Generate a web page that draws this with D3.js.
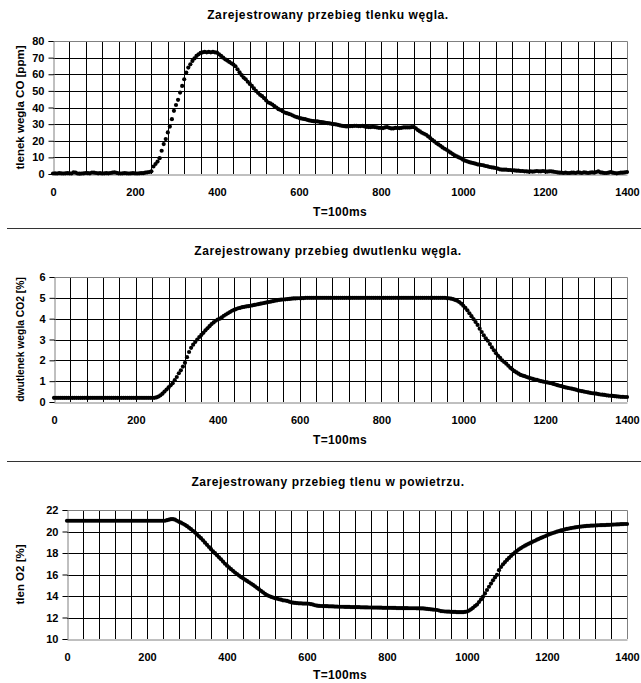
<!DOCTYPE html>
<html>
<head>
<meta charset="utf-8">
<script src="https://cdn.jsdelivr.net/npm/d3@7"></script>
<style>
  body { margin: 0; background: #fff; }
  svg text { font-family: "Liberation Sans", Arial, sans-serif; font-weight: bold; fill: #000; }
</style>
</head>
<body>
<div id="chart"></div>
<script>
// samples every 5 units of T (T=100ms)
const sampleStep = 5;
const gridStep = 40;
const xTicks = [0, 200, 400, 600, 800, 1000, 1200, 1400];

const coTicks = [0, 10, 20, 30, 40, 50, 60, 70, 80];
const co2Ticks = [0, 1, 2, 3, 4, 5, 6];
const o2Ticks = [10, 12, 14, 16, 18, 20, 22];

// tlenek węgla CO [ppm]
const coValues = [
  0.3,0.4,0.3,0.5,0.4,0.3,0.4,0.5,0.4,0.3,1.0,0.8,0.3,0.2,0.3,0.4,0.6,0.5,0.4,0.9,
  0.8,0.6,0.4,0.5,0.3,0.4,0.5,0.4,0.6,0.8,1.0,0.7,0.4,0.3,0.4,0.5,0.4,0.3,0.4,0.5,
  0.4,0.3,0.4,0.5,0.5,0.8,1.0,1.2,1.6,4.5,6.0,7.5,9.5,14,18,21,25,28.5,33,38,
  41.5,44.6,49,53,57,61,64,66,68,69.5,71,72,72.8,73.2,73.4,73.2,73.4,73.2,73.4,73.2,
  73,72,71,70,69,68.2,67.4,66.6,65.8,64.8,63,61.2,59.5,58,57,55.5,54.2,53,51.5,50,
  48.8,47.6,46.8,45.6,44.2,43,42.5,41.8,40.8,40,39,38.5,37.8,37,36.6,36.2,35.8,35.2,34.6,34.2,
  33.8,33.4,33.2,33,32.6,32.2,32,31.8,31.6,31.6,31.4,31.2,31,30.8,30.6,30.4,30.2,30,29.8,29.6,
  29.2,29,28.8,28.6,28.6,28.8,28.8,29,29,28.8,28.8,29,28.6,28.4,28.2,28.2,28.4,28.2,28,27.8,
  27.8,27.6,28,28.2,27.8,27.4,27.4,27.8,27.6,27.6,27.8,28,28,28,28,28.2,28.2,27.4,26.4,25.6,
  24.8,24.2,23.6,22.6,21.6,20.6,19.6,18.6,17.8,17,16,15.2,14.6,13.6,12.8,12,11.2,10.6,10,9.4,
  8.6,8,7.6,7.2,6.8,6.6,6.2,5.8,5.6,5.4,5.2,4.8,4.6,4.2,4,3.8,3.6,3.2,2.8,2.6,
  2.6,2.6,2.4,2.4,2.2,2.2,2,2,1.8,1.8,1.6,1.6,1.4,1.6,1.4,1.6,1.8,1.6,1.6,1.8,
  1.6,1.4,1.6,1.6,1.4,1.2,1,0.8,0.8,0.6,0.8,0.6,0.6,0.8,0.8,0.6,1,0.8,0.6,1,
  0.8,0.6,0.8,1,0.8,1.2,1.6,1,0.8,0.6,0.6,0.8,1.2,0.8,0.6,0.4,0.6,0.8,0.8,1,
  1.2
];

// dwutlenek węgla CO2 [%]
const co2Values = [
  0.2,0.2,0.2,0.2,0.2,0.2,0.2,0.2,0.2,0.2,0.2,0.2,0.2,0.2,0.2,0.2,0.2,0.2,0.2,0.2,
  0.2,0.2,0.2,0.2,0.2,0.2,0.2,0.2,0.2,0.2,0.2,0.2,0.2,0.2,0.2,0.2,0.2,0.2,0.2,0.2,
  0.2,0.2,0.2,0.2,0.2,0.2,0.2,0.2,0.2,0.2,0.22,0.26,0.32,0.4,0.5,0.6,0.7,0.8,0.9,1.05,
  1.2,1.38,1.52,1.7,1.88,2.15,2.4,2.6,2.75,2.88,3.0,3.12,3.22,3.32,3.44,3.54,3.64,3.74,3.82,3.9,
  3.96,4.0,4.06,4.14,4.2,4.26,4.32,4.38,4.42,4.46,4.5,4.52,4.55,4.57,4.59,4.6,4.62,4.64,4.66,4.68,
  4.7,4.72,4.74,4.76,4.78,4.8,4.82,4.84,4.86,4.88,4.9,4.91,4.92,4.93,4.94,4.95,4.96,4.97,4.97,4.98,
  4.98,4.99,4.99,5,5,5,5,5,5,5,5,5,5,5,5,5,5,5,5,5,
  5,5,5,5,5,5,5,5,5,5,5,5,5,5,5,5,5,5,5,5,
  5,5,5,5,5,5,5,5,5,5,5,5,5,5,5,5,5,5,5,5,
  5,5,5,5,5,5,5,5,5,5,5,5,4.99,4.98,4.96,4.94,4.9,4.86,4.8,4.72,
  4.62,4.52,4.4,4.26,4.12,3.98,3.84,3.7,3.52,3.36,3.2,3.06,2.94,2.78,2.62,2.48,2.34,2.22,2.12,2.0,
  1.92,1.84,1.74,1.64,1.56,1.48,1.42,1.36,1.3,1.27,1.24,1.2,1.17,1.14,1.11,1.08,1.06,1.03,1.0,0.98,
  0.96,0.94,0.92,0.9,0.87,0.84,0.81,0.78,0.76,0.73,0.7,0.68,0.66,0.64,0.62,0.59,0.56,0.54,0.52,0.5,
  0.48,0.46,0.44,0.42,0.41,0.4,0.38,0.36,0.35,0.34,0.32,0.31,0.3,0.29,0.28,0.27,0.26,0.25,0.25,0.24,
  0.24
];

// tlen O2 [%]
const o2Values = [
  21,21,21,21,21,21,21,21,21,21,21,21,21,21,21,21,21,21,21,21,
  21,21,21,21,21,21,21,21,21,21,21,21,21,21,21,21,21,21,21,21,
  21,21,21,21,21,21,21,21,21,21,21.05,21.1,21.15,21.15,21.1,21.0,20.9,20.82,20.72,20.62,
  20.5,20.36,20.22,20.05,19.9,19.72,19.55,19.38,19.18,18.96,18.76,18.56,18.36,18.16,17.98,17.8,17.6,17.42,17.2,17.0,
  16.82,16.66,16.5,16.34,16.18,16.04,15.9,15.76,15.64,15.52,15.4,15.28,15.16,15.04,14.9,14.76,14.62,14.48,14.34,14.2,
  14.08,14.0,13.92,13.86,13.8,13.76,13.7,13.66,13.6,13.58,13.54,13.48,13.42,13.38,13.36,13.34,13.32,13.32,13.3,13.3,
  13.3,13.28,13.24,13.2,13.14,13.1,13.08,13.07,13.06,13.06,13.05,13.04,13.04,13.03,13.02,13.02,13.0,13.0,13.0,12.98,
  12.98,12.98,12.97,12.97,12.96,12.96,12.96,12.95,12.95,12.94,12.94,12.93,12.93,12.92,12.92,12.92,12.91,12.91,12.9,12.9,
  12.9,12.9,12.9,12.89,12.89,12.88,12.88,12.88,12.87,12.87,12.87,12.86,12.86,12.86,12.86,12.85,12.85,12.84,12.84,12.82,
  12.8,12.78,12.76,12.74,12.72,12.7,12.65,12.6,12.58,12.56,12.55,12.54,12.53,12.52,12.52,12.5,12.5,12.5,12.5,12.52,
  12.56,12.64,12.76,12.9,13.06,13.2,13.44,13.68,13.94,14.24,14.56,14.86,15.16,15.46,15.72,15.96,16.4,16.7,16.95,17.16,
  17.36,17.54,17.72,17.9,18.05,18.2,18.34,18.46,18.58,18.68,18.78,18.88,18.96,19.06,19.14,19.24,19.32,19.4,19.48,19.56,
  19.64,19.72,19.8,19.86,19.92,19.98,20.04,20.1,20.14,20.2,20.24,20.28,20.32,20.35,20.38,20.41,20.44,20.46,20.48,20.5,
  20.52,20.53,20.54,20.55,20.56,20.57,20.58,20.59,20.6,20.6,20.61,20.62,20.63,20.64,20.65,20.66,20.67,20.68,20.69,20.7,
  20.7
];

const width = 641, height = 683;

const panels = [
  { title: "Zarejestrowany przebieg tlenku węgla.", yLabel: "tlenek wegla CO [ppm]", yLabelSize: 11.5,
    values: coValues, yTicks: coTicks,
    left: 53, right: 627, top: 41, bottom: 174, titleY: 19, tLabelY: 216 },
  { title: "Zarejestrowany przebieg dwutlenku węgla.", yLabel: "dwutlenek wegla CO2 [%]", yLabelSize: 10.3,
    values: co2Values, yTicks: co2Ticks,
    left: 54, right: 627, top: 277, bottom: 402, titleY: 255, tLabelY: 444 },
  { title: "Zarejestrowany przebieg tlenu w powietrzu.", yLabel: "tlen O2 [%]", yLabelSize: 11.5,
    values: o2Values, yTicks: o2Ticks,
    left: 67, right: 627, top: 510, bottom: 639, titleY: 486, tLabelY: 679 }
];
const separators = [228, 461];

const svg = d3.select("#chart").append("svg")
  .attr("width", width)
  .attr("height", height);

function drawPanel(selection, p) {
  const g = selection.append("g").attr("class", "panel");
  const x = d3.scaleLinear().domain([0, 1400]).range([p.left, p.right]);
  const y = d3.scaleLinear()
    .domain([p.yTicks[0], p.yTicks[p.yTicks.length - 1]])
    .range([p.bottom, p.top]);

  // grid
  g.append("g").selectAll("line")
    .data(d3.range(gridStep, 1400, gridStep))
    .join("line")
    .attr("x1", d => Math.round(x(d)) + 0.5)
    .attr("x2", d => Math.round(x(d)) + 0.5)
    .attr("y1", p.top)
    .attr("y2", p.bottom)
    .attr("stroke", "#000");
  g.append("g").selectAll("line")
    .data(p.yTicks.slice(1, -1))
    .join("line")
    .attr("x1", p.left)
    .attr("x2", p.right)
    .attr("y1", d => Math.round(y(d)) + 0.5)
    .attr("y2", d => Math.round(y(d)) + 0.5)
    .attr("stroke", "#000");

  // plot border top / right
  g.append("path")
    .attr("d", `M${p.left},${p.top + 0.5}H${p.right + 0.5}V${p.bottom}`)
    .attr("fill", "none")
    .attr("stroke", "#808080");

  // axes
  const yAxis = d3.axisLeft(y).tickValues(p.yTicks).tickSize(5).tickPadding(4).tickFormat(d3.format("d"));
  const yAxisGroup = g.append("g")
    .attr("transform", `translate(${Math.round(p.left) + 0.5},0)`)
    .call(yAxis);
  yAxisGroup.select(".domain").attr("stroke", "#808080");
  yAxisGroup.selectAll(".tick line").attr("stroke", "#000");
  yAxisGroup.selectAll("text")
    .style("font-size", "11px")
    .style("font-family", "'Liberation Sans', Arial, sans-serif")
    .style("font-weight", "bold");

  const xAxis = d3.axisBottom(x).tickValues(xTicks).tickSize(0).tickPadding(14).tickFormat(d3.format("d"));
  const xAxisGroup = g.append("g")
    .attr("transform", `translate(0,${Math.round(p.bottom) + 0.5})`)
    .call(xAxis);
  xAxisGroup.select(".domain").attr("stroke", "#808080");
  xAxisGroup.selectAll("text")
    .style("font-size", "11px")
    .style("font-family", "'Liberation Sans', Arial, sans-serif")
    .style("font-weight", "bold");

  // points
  g.append("g").selectAll("circle")
    .data(p.values)
    .join("circle")
    .attr("cx", (d, i) => x(i * sampleStep))
    .attr("cy", d => y(d))
    .attr("r", 2.1)
    .attr("fill", "#000");

  // texts
  g.append("text")
    .attr("x", 328)
    .attr("y", p.titleY)
    .attr("text-anchor", "middle")
    .style("font-size", "12px")
    .style("letter-spacing", "0.6px")
    .text(p.title);
  g.append("text")
    .attr("x", 340)
    .attr("y", p.tLabelY)
    .attr("text-anchor", "middle")
    .style("font-size", "12px")
    .style("letter-spacing", "0.3px")
    .text("T=100ms");
  g.append("text")
    .attr("transform", `translate(24,${(p.top + p.bottom) / 2}) rotate(-90)`)
    .attr("text-anchor", "middle")
    .style("font-size", p.yLabelSize + "px")
    .text(p.yLabel);
}

panels.forEach(p => drawPanel(svg, p));

svg.selectAll("line.sep")
  .data(separators)
  .join("line")
  .attr("class", "sep")
  .attr("x1", 7)
  .attr("x2", width)
  .attr("y1", d => d + 0.5)
  .attr("y2", d => d + 0.5)
  .attr("stroke", "#333");
</script>
</body>
</html>
